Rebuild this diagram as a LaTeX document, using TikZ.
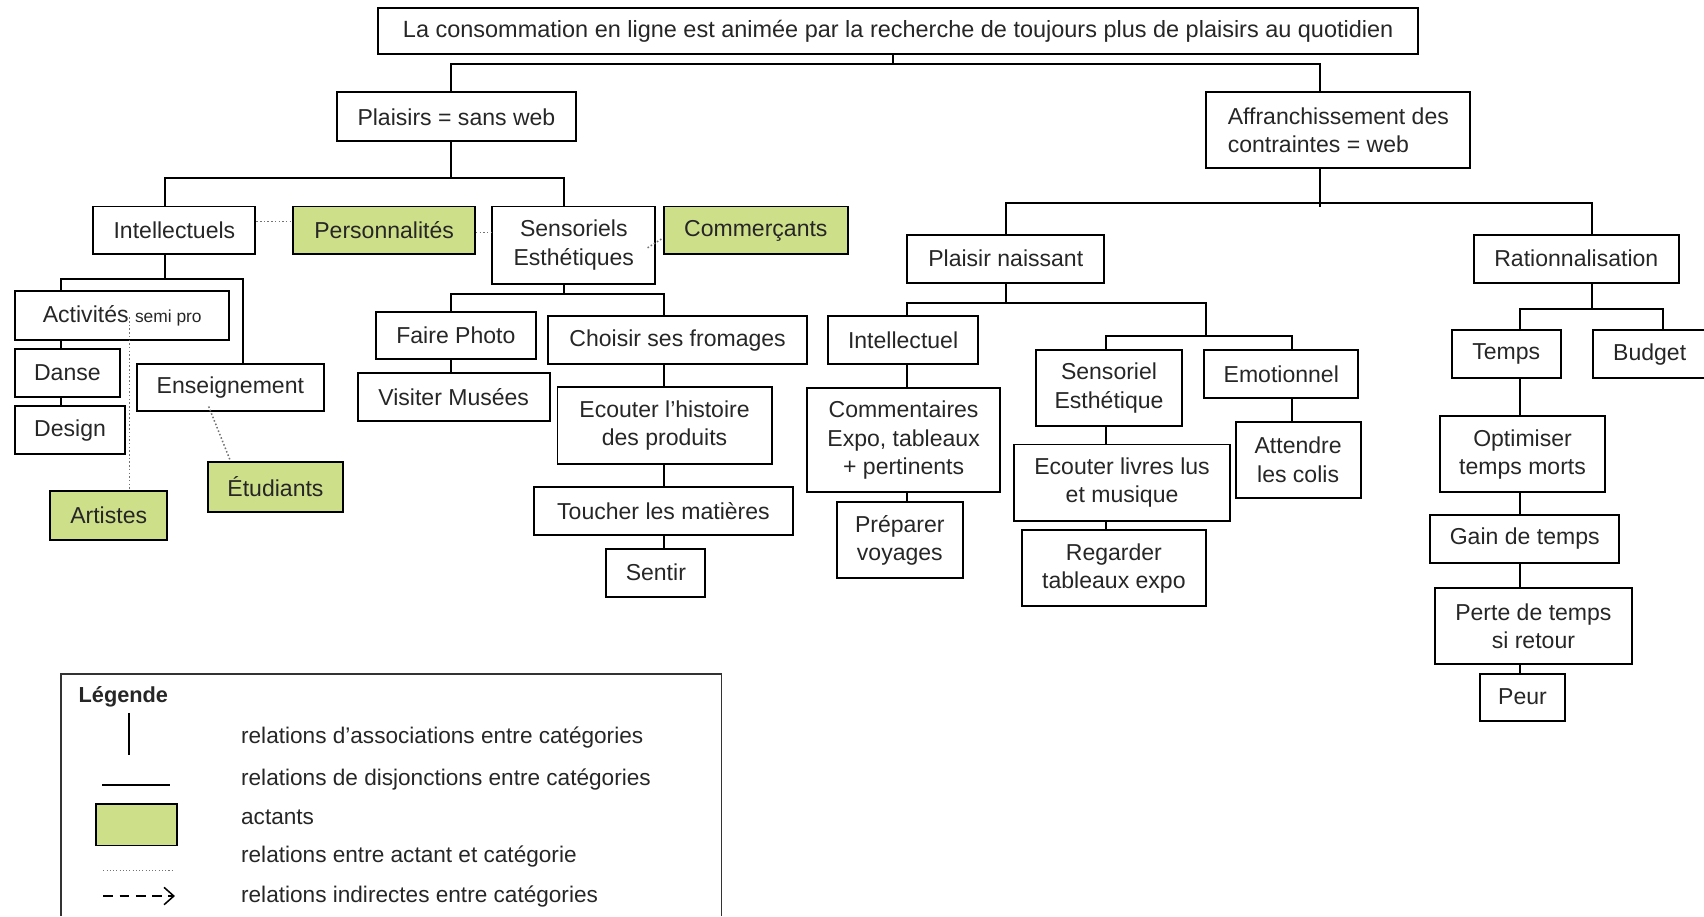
\documentclass[tikz,border=0pt]{standalone}
\usepackage{fontspec}
\setmainfont{Liberation Sans}
\usetikzlibrary{positioning, arrows.meta}
\definecolor{actgreen}{RGB}{206,223,138}

\begin{document}
\begin{tikzpicture}[node distance={40pt}, line width=0.9pt,
		font=\fontsize{10.6}{13}\selectfont,
		cat/.style = {draw, rectangle, inner sep=2pt, minimum height=22pt, align=center, text=black!85},
		actant/.style = {cat, fill=actgreen},
		link/.style = {densely dotted, line width=0.7pt, black!55},
		legtext/.style = {anchor=west, inner sep=0pt, font=\fontsize{10.4}{12}\selectfont, text=black!85}]
		\useasboundingbox (0,0) rectangle (784pt,-421.5pt);
		\node[cat, minimum width=478.5pt, minimum height=21.5pt, font=\fontsize{10.8}{13}\selectfont] (top) at (413.25pt,-14.25pt) {La consommation en ligne est animée par la recherche de toujours plus de plaisirs au quotidien};
		\node[cat, minimum width=110pt, minimum height=22.5pt] (plaisirs) [below of=top, node distance=39.5pt, xshift=-203.25pt] {Plaisirs = sans web};
		\node[cat, minimum width=121.5pt, minimum height=35pt, align=left] (affr) [below of=top, node distance=45.75pt, xshift=202.5pt] {Affranchissement des\\contraintes = web};
		\node[cat, minimum width=74.5pt] (intellectuels) [below of=plaisirs, node distance=52.25pt, xshift=-129.75pt] {Intellectuels};
		\node[actant, minimum width=83.5pt] (personnalites) [right of=intellectuels, node distance=96.5pt] {Personnalités};
		\node[cat, minimum width=75pt, minimum height=35.5pt] (sensoriels) [below of=plaisirs, node distance=59pt, xshift=54pt] {Sensoriels\\Esthétiques};
		\node[actant, minimum width=84.5pt] (commercants) [right of=sensoriels, node distance=83.75pt, yshift=6.75pt] {Commerçants};
		\node[cat, minimum width=98.5pt, minimum height=22.5pt] (activites) [below of=intellectuels, node distance=39.25pt, xshift=-24pt] {Activités {\fontsize{8}{9}\selectfont semi pro}};
		\node[cat, minimum width=48pt] (danse) [below of=activites, node distance=26.25pt, xshift=-25.25pt] {Danse};
		\node[cat, minimum width=50.5pt] (design) [below of=danse, node distance=26.5pt, xshift=1.25pt] {Design};
		\node[cat, minimum width=86pt, minimum height=21.5pt] (enseignement) [below of=intellectuels, node distance=72.25pt, xshift=25.75pt] {Enseignement};
		\node[actant, minimum width=62.5pt, minimum height=23pt] (etudiants) [below of=enseignement, node distance=45.75pt, xshift=20.75pt] {Étudiants};
		\node[actant, minimum width=54pt, minimum height=22.5pt] (artistes) [below of=activites, node distance=92pt, xshift=-6.25pt] {Artistes};
		\node[cat, minimum width=73.5pt, minimum height=21.5pt] (photo) [below of=sensoriels, node distance=41.5pt, xshift=-54.25pt] {Faire Photo};
		\node[cat, minimum width=88.5pt] (musees) [below of=photo, node distance=28.25pt, xshift=-1pt] {Visiter Musées};
		\node[cat, minimum width=119.5pt] (fromages) [below of=sensoriels, node distance=43.75pt, xshift=47.75pt] {Choisir ses fromages};
		\node[cat, minimum width=98.5pt, minimum height=35.5pt] (histoire) [below of=fromages, node distance=39.25pt, xshift=-6pt] {Ecouter l'histoire\\des produits};
		\node[cat, minimum width=119.5pt] (toucher) [below of=histoire, node distance=39.25pt, xshift=-0.5pt] {Toucher les matières};
		\node[cat, minimum width=45.5pt] (sentir) [below of=toucher, node distance=28.5pt, xshift=-3.5pt] {Sentir};
		\node[cat, minimum width=90.5pt] (naissant) [below of=affr, node distance=59pt, xshift=-153pt] {Plaisir naissant};
		\node[cat, minimum width=94.5pt] (rationnalisation) [below of=affr, node distance=59pt, xshift=109.5pt] {Rationnalisation};
		\node[cat, minimum width=69pt] (intellectuel) [below of=naissant, node distance=37.5pt, xshift=-47.25pt] {Intellectuel};
		\node[cat, minimum width=88.5pt, minimum height=48pt] (commentaires) [below of=intellectuel, node distance=46pt, xshift=0.25pt] {Commentaires\\Expo, tableaux\\+ pertinents};
		\node[cat, minimum width=58pt, minimum height=35pt] (voyages) [below of=commentaires, node distance=46pt, xshift=-1.75pt] {Préparer\\voyages};
		\node[cat, minimum width=67.5pt, minimum height=35pt] (sensoriel) [below of=naissant, node distance=59.5pt, xshift=47.5pt] {Sensoriel\\Esthétique};
		\node[cat, minimum width=71pt] (emotionnel) [right of=sensoriel, node distance=79.25pt, yshift=6.5pt] {Emotionnel};
		\node[cat, minimum width=99.5pt, minimum height=35pt] (livres) [below of=sensoriel, node distance=43.5pt, xshift=6pt] {Ecouter livres lus\\et musique};
		\node[cat, minimum width=85pt, minimum height=35pt] (regarder) [below of=livres, node distance=39.5pt, xshift=-3.75pt] {Regarder\\tableaux expo};
		\node[cat, minimum width=57.5pt, minimum height=35pt] (attendre) [below of=emotionnel, node distance=39.5pt, xshift=7.75pt] {Attendre\\les colis};
		\node[cat, minimum width=50pt] (temps) [below of=rationnalisation, node distance=44pt, xshift=-32.25pt] {Temps};
		\node[cat, minimum width=52pt] (budget) [right of=temps, node distance=66pt] {Budget};
		\node[cat, minimum width=76pt, minimum height=35pt] (optimiser) [below of=temps, node distance=46pt, xshift=7.5pt] {Optimiser\\temps morts};
		\node[cat, minimum width=87pt] (gain) [below of=optimiser, node distance=39pt, xshift=1pt] {Gain de temps};
		\node[cat, minimum width=90.5pt, minimum height=35pt] (perte) [below of=gain, node distance=40pt, xshift=4pt] {Perte de temps\\si retour};
		\node[cat, minimum width=39pt, minimum height=21.5pt] (peur) [below of=perte, node distance=32.75pt, xshift=-5pt] {Peur};
		\draw ([xshift=-2.25pt]top.south) -- ++(0,-4pt) coordinate (j0);
		\draw ([xshift=-2.5pt]plaisirs.north) |- (j0) -| ([xshift=-8.25pt]affr.north);
		\draw ([xshift=-2.5pt]plaisirs.south) -- ++(0,-16.5pt) coordinate (j1);
		\draw ([xshift=-4.25pt]intellectuels.north) |- (j1) -| ([xshift=-4.5pt]sensoriels.north);
		\draw ([xshift=-4.25pt]intellectuels.south) -- ++(0,-11pt) coordinate (j2);
		\draw ([xshift=-28.25pt]activites.north) |- (j2) -| ([xshift=6pt]enseignement.north);
		\draw ([xshift=-3pt]danse.north) -- ([xshift=-28.25pt]activites.south);
		\draw ([xshift=-4.25pt]design.north) -- ([xshift=-3pt]danse.south);
		\draw ([xshift=-4.5pt]sensoriels.south) -- ++(0,-4.5pt) coordinate (j3);
		\draw ([xshift=-2.25pt]photo.north) |- (j3) -| ([xshift=-6.25pt]fromages.north);
		\draw ([xshift=-1.25pt]musees.north) -- ([xshift=-2.25pt]photo.south);
		\draw ([xshift=-0.25pt]histoire.north) -- ([xshift=-6.25pt]fromages.south);
		\draw ([xshift=0.25pt]toucher.north) -- ([xshift=-0.25pt]histoire.south);
		\draw ([xshift=3.75pt]sentir.north) -- ([xshift=0.25pt]toucher.south);
		\draw ([xshift=-8.25pt]affr.south) -- ++(0,-15.5pt) coordinate (j4) -- ++(0,-2pt);
		\draw (naissant.north) |- (j4) -| ([xshift=7.25pt]rationnalisation.north);
		\draw (naissant.south) -- ++(0,-9pt) coordinate (j5);
		\draw ([xshift=2pt]intellectuel.north) |- (j5) -- ++(92.25pt,0) coordinate (j6) -- ++(0,-15pt) coordinate (j7);
		\draw ([xshift=-1.25pt]sensoriel.north) |- (j7) -| ([xshift=5pt]emotionnel.north);
		\draw ([xshift=1.75pt]commentaires.north) -- ([xshift=2pt]intellectuel.south);
		\draw ([xshift=3.5pt]voyages.north) -- ([xshift=1.75pt]commentaires.south);
		\draw ([xshift=-7.25pt]livres.north) -- ([xshift=-1.25pt]sensoriel.south);
		\draw ([xshift=-3.5pt]regarder.north) -- ([xshift=-7.25pt]livres.south);
		\draw ([xshift=-2.75pt]attendre.north) -- ([xshift=5pt]emotionnel.south);
		\draw ([xshift=7.25pt]rationnalisation.south) -- ++(0,-11.5pt) coordinate (j8);
		\draw ([xshift=6.5pt]temps.north) |- (j8) -| ([xshift=6pt]budget.north);
		\draw ([xshift=-1pt]optimiser.north) -- ([xshift=6.5pt]temps.south);
		\draw ([xshift=-2pt]gain.north) -- ([xshift=-1pt]optimiser.south);
		\draw ([xshift=-6pt]perte.north) -- ([xshift=-2pt]gain.south);
		\draw ([xshift=-1pt]peur.north) -- ([xshift=-6pt]perte.south);
		\draw[link] ([yshift=4pt]intellectuels.east) -- ([yshift=4pt]personnalites.west);
		\draw[link] ([yshift=-1pt]personnalites.east) -- ([yshift=5.75pt]sensoriels.west);
		\draw[link] ([xshift=-4pt,yshift=-1.25pt]sensoriels.east) -- ([yshift=-3.5pt]commercants.west);
		\draw[link] ([xshift=3.25pt,yshift=-0.75pt]activites.center) -- ([xshift=9.5pt]artistes.north);
		\draw[link] ([xshift=-10pt,yshift=-8.75pt]enseignement.center) -- ([xshift=-20.75pt]etudiants.north);
		\draw[line width=0.7pt, black!80] (28pt,-421.5pt) |- (332pt,-310pt) -- (332pt,-421.5pt);
		\node[font=\bfseries\fontsize{10}{12}\selectfont, text=black!85] (legende) at (56.75pt,-320.5pt) {Légende};
		\node[legtext] (leg1) at (110.5pt,-339.25pt) {relations d'associations entre catégories};
		\node[legtext] (leg2) at (110.5pt,-358.5pt) {relations de disjonctions entre catégories};
		\node[legtext] (leg3) at (110.5pt,-376pt) {actants};
		\node[legtext] (leg4) at (110.5pt,-394pt) {relations entre actant et catégorie};
		\node[legtext] (leg5) at (110.5pt,-412.5pt) {relations indirectes entre catégories};
		\draw (59.5pt,-328pt) -- (59.5pt,-347.5pt);
		\draw (47pt,-361pt) -- (78pt,-361pt);
		\draw[fill=actgreen] (44pt,-370pt) rectangle (81.5pt,-389pt);
		\draw[link, line width=0.5pt] (47.5pt,-400.5pt) -- (79.5pt,-400.5pt);
		\draw[dash pattern=on 4.5pt off 3pt, line width=0.7pt, -{Straight Barb[length=4.5pt, width=8pt]}] (47.5pt,-412.25pt) -- (80.5pt,-412.25pt);

	\end{tikzpicture}
\end{document}
